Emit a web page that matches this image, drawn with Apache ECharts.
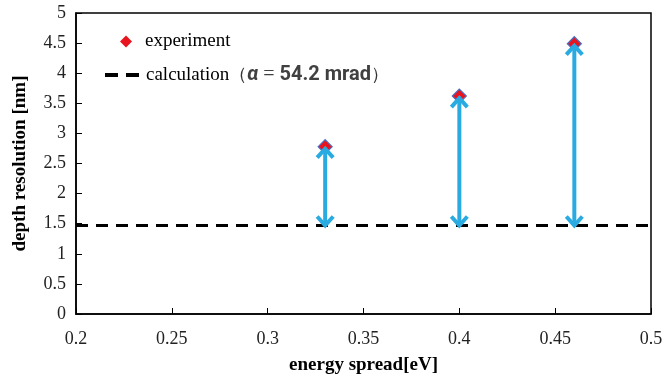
<!DOCTYPE html>
<html>
<head>
<meta charset="utf-8">
<script src="https://cdn.jsdelivr.net/npm/echarts@6/dist/echarts.min.js"></script>
<style>html,body{margin:0;padding:0;background:#fff}#c{width:671px;height:380px}</style>
</head>
<body>
<div id="c"></div>
<script>
// ---- data ----
const energySpread = [0.33, 0.40, 0.46];
const depthResolution = [2.78, 3.62, 4.49];
const calcValue = 1.47;
const calcRange = [0.2, 0.5];
const xTicks = { min: 0.2, max: 0.5, interval: 0.05 };
const yTicks = { min: 0, max: 5, interval: 0.5 };
const xName = 'energy spread[eV]';
const yName = 'depth resolution [nm]';
const legendNames = ['experiment', 'calculation'];

const serif = '"Liberation Serif", "DejaVu Serif", serif';
const sans = 'Roboto, "Liberation Sans", sans-serif';

const chart = echarts.init(document.getElementById('c'), null, { renderer: 'canvas' });

const expData = energySpread.map((x, i) => [x, depthResolution[i]]);
const calcData = calcRange.map(x => [x, calcValue]);
const arrowData = energySpread.map((x, i) => [x, calcValue, depthResolution[i]]);

const ARROW = '#29abe2';

function renderArrow(params, api) {
  const x = api.value(0);
  const p0 = api.coord([x, api.value(1)]);
  const p1 = api.coord([x, api.value(2)]);
  const dir = p1[1] < p0[1] ? -1 : 1;
  const topTip = [p1[0], p1[1] - dir * 2];
  const botTip = [p0[0], p0[1]];
  const arm = 9, spread = 8;
  const style = { stroke: ARROW, lineWidth: 4, fill: null, lineCap: 'butt', lineJoin: 'miter' };
  return {
    type: 'group',
    children: [
      { type: 'line', shape: { x1: botTip[0], y1: botTip[1] + dir * 2, x2: topTip[0], y2: topTip[1] - dir * 2 }, style: style },
      { type: 'polyline', shape: { points: [[topTip[0] - spread, topTip[1] - dir * arm], topTip, [topTip[0] + spread, topTip[1] - dir * arm]] }, style: style },
      { type: 'polyline', shape: { points: [[botTip[0] - spread, botTip[1] + dir * arm], botTip, [botTip[0] + spread, botTip[1] + dir * arm]] }, style: style }
    ]
  };
}

chart.setOption({
  animation: false,
  backgroundColor: '#fff',
  grid: { left: 76, right: 20, top: 13, bottom: 62, show: true, borderColor: '#000', borderWidth: 1.5, backgroundColor: 'transparent' },
  legend: [
    {
      left: 115, top: 27,
      itemWidth: 12, itemHeight: 12,
      data: [{ name: legendNames[0], icon: 'diamond', itemStyle: { color: '#e8141e', borderWidth: 0 } }],
      formatter: '{s|{name}}',
      textStyle: { rich: { s: { fontFamily: serif, fontSize: 19, color: '#000', padding: [0, 0, 0, 8] } } }
    },
    {
      left: 100, top: 60,
      itemWidth: 34, itemHeight: 4,
      data: [{ name: legendNames[1], icon: 'path://M0,0 L13,0 L13,4 L0,4 Z M21,0 L34,0 L34,4 L21,4 Z', itemStyle: { color: '#000', borderWidth: 0 } }],
      formatter: '{s|calculation}{p|（}{a|α}{e| = }{b|54.2 mrad}{p|）}',
      textStyle: {
        rich: {
          s: { fontFamily: serif, fontSize: 19, color: '#000', padding: [0, 0, 0, 2] },
          p: { fontFamily: serif, fontSize: 18, color: '#333' },
          a: { fontFamily: sans, fontSize: 20, fontWeight: 'bold', fontStyle: 'italic', color: '#404040' },
          e: { fontFamily: serif, fontSize: 20, color: '#404040' },
          b: { fontFamily: sans, fontSize: 20, fontWeight: 'bold', color: '#404040' }
        }
      }
    }
  ],
  xAxis: {
    type: 'value', min: xTicks.min, max: xTicks.max, interval: xTicks.interval,
    name: xName, nameLocation: 'middle', nameGap: 42,
    nameTextStyle: { fontFamily: serif, fontSize: 19, fontWeight: 'bold', color: '#000' },
    axisLine: { onZero: false, lineStyle: { color: '#000', width: 1.5 } },
    axisTick: { inside: true, length: 6, lineStyle: { color: '#000', width: 1 } },
    axisLabel: { fontFamily: serif, fontSize: 18, color: '#222', margin: 16 },
    splitLine: { show: false }
  },
  yAxis: {
    type: 'value', min: yTicks.min, max: yTicks.max, interval: yTicks.interval,
    name: yName, nameLocation: 'middle', nameGap: 46,
    nameTextStyle: { fontFamily: serif, fontSize: 19, fontWeight: 'bold', color: '#000' },
    axisLine: { show: true, lineStyle: { color: '#000', width: 1.5 } },
    axisTick: { show: true, inside: true, length: 6, lineStyle: { color: '#000', width: 1 } },
    axisLabel: { fontFamily: serif, fontSize: 18, color: '#222', margin: 10 },
    splitLine: { show: false }
  },
  series: [
    {
      name: legendNames[1],
      type: 'line',
      data: calcData,
      symbol: 'none',
      z: 2,
      itemStyle: { color: '#000' },
      lineStyle: { color: '#000', width: 3, type: [12, 8] }
    },
    {
      name: legendNames[0],
      type: 'scatter',
      data: expData,
      symbol: 'diamond',
      symbolSize: 14,
      z: 3,
      itemStyle: { color: '#e8141e', borderColor: '#4a6cc0', borderWidth: 1.2, opacity: 1 }
    },
    {
      type: 'custom',
      data: arrowData,
      renderItem: renderArrow,
      silent: true,
      z: 4,
      encode: { x: 0, y: [1, 2] }
    }
  ]
});
</script>
</body>
</html>
